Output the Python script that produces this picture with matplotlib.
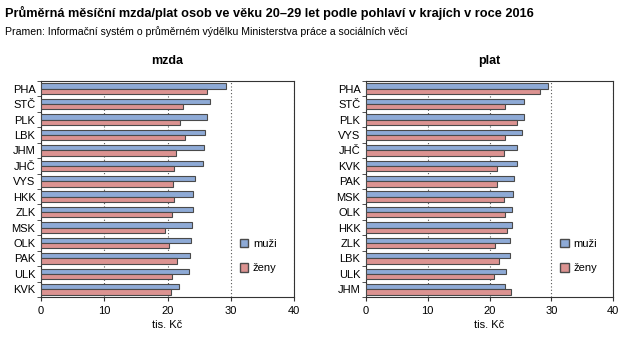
import numpy as np
import matplotlib
matplotlib.use("Agg")
import matplotlib.pyplot as plt
from matplotlib.patches import Patch

plt.rcParams['font.family'] = ['Liberation Sans', 'DejaVu Sans']

# mzda (left panel)
mzda_kraje = ["PHA", "STČ", "PLK", "LBK", "JHM", "JHČ", "VYS", "HKK", "ZLK", "MSK", "OLK", "PAK", "ULK", "KVK"]
mzda_muzi = [29.2, 26.7, 26.3, 26.0, 25.8, 25.6, 24.3, 24.0, 24.0, 23.9, 23.7, 23.5, 23.4, 21.8]
mzda_zeny = [26.3, 22.4, 21.9, 22.7, 21.3, 21.1, 20.8, 21.1, 20.7, 19.6, 20.2, 21.5, 20.7, 20.5]

# plat (right panel)
plat_kraje = ["PHA", "STČ", "PLK", "VYS", "JHČ", "KVK", "PAK", "MSK", "OLK", "HKK", "ZLK", "LBK", "ULK", "JHM"]
plat_muzi = [29.5, 25.6, 25.6, 25.3, 24.5, 24.5, 24.0, 23.8, 23.7, 23.7, 23.3, 23.3, 22.7, 22.5]
plat_zeny = [28.2, 22.5, 24.5, 22.5, 22.4, 21.2, 21.2, 22.4, 22.5, 22.9, 20.9, 21.6, 20.8, 23.5]

c_muzi = "#8eaad6"
c_zeny = "#dc9391"
edge = "#4a4a4a"

fig = plt.figure(figsize=(6.4, 3.62), dpi=100)
fig.text(0.008, 0.965, "Průměrná měsíční mzda/plat osob ve věku 20–29 let podle pohlaví v krajích v roce 2016",
         fontsize=9.2, fontweight='bold', va='center', ha='left')
fig.text(0.008, 0.913, "Pramen: Informační systém o průměrném výdělku Ministerstva práce a sociálních věcí",
         fontsize=7.6, va='center', ha='left')

def panel(rect, title, kraje, muzi, zeny):
    ax = fig.add_axes(rect)
    n = len(kraje)
    y = np.arange(n)[::-1]
    h = 0.34
    ax.barh(y + h / 2, muzi, height=h, color=c_muzi, edgecolor=edge, linewidth=0.8, zorder=3)
    ax.barh(y - h / 2, zeny, height=h, color=c_zeny, edgecolor=edge, linewidth=0.8, zorder=3)
    ax.set_xlim(0, 40)
    ax.set_ylim(-0.5, n - 0.5)
    ax.set_xticks([0, 10, 20, 30, 40])
    ax.set_yticks(y)
    ax.set_yticklabels(kraje, fontsize=8)
    ax.set_yticks(np.arange(n + 1) - 0.5, minor=True)
    ax.tick_params(axis='y', which='major', length=0, pad=4)
    ax.tick_params(axis='y', which='minor', length=3, direction='out', color='#333333')
    ax.tick_params(axis='x', labelsize=8, length=3, direction='out', color='#333333')
    ax.grid(axis='x', linestyle=(0, (1, 2)), color='#555555', linewidth=0.8, zorder=0)
    for s in ax.spines.values():
        s.set_color('#333333')
        s.set_linewidth(0.8)
    ax.set_xlabel("tis. Kč", fontsize=8, labelpad=3)
    ax.set_title(title, fontsize=9, fontweight='bold', pad=12)
    ax.legend(handles=[Patch(facecolor=c_muzi, edgecolor=edge, label="muži"),
                       Patch(facecolor=c_zeny, edgecolor=edge, label="ženy")],
              loc='center left', bbox_to_anchor=(0.785, 0.19), frameon=False, fontsize=8,
              handlelength=0.8, handleheight=0.8, labelspacing=1.3, handletextpad=0.4,
              borderaxespad=0, borderpad=0)
    return ax

panel([41 / 640, 1 - 297 / 362, 253 / 640, 216 / 362], "mzda", mzda_kraje, mzda_muzi, mzda_zeny)
panel([366 / 640, 1 - 297 / 362, 247 / 640, 216 / 362], "plat", plat_kraje, plat_muzi, plat_zeny)

fig.savefig("out.png", dpi=100)
